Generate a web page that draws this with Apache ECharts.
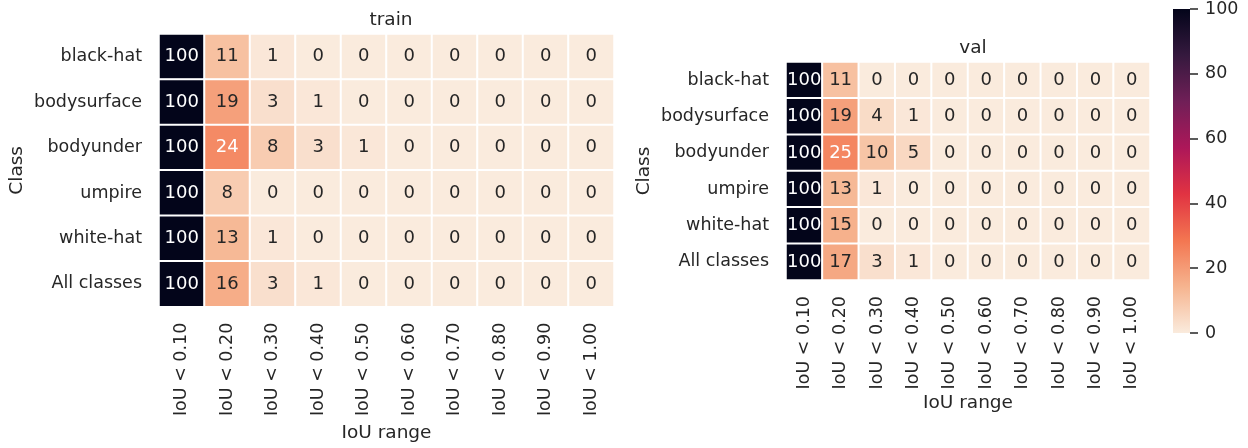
<!DOCTYPE html>
<html>
<head>
<meta charset="utf-8">
<script src="https://cdn.jsdelivr.net/npm/echarts@6/dist/echarts.min.js"></script>
<style>
html,body{margin:0;padding:0;background:#fff;}
#chart{width:1248px;height:448px;}
</style>
</head>
<body>
<div id="chart"></div>
<script>
// ---- data ----
const classes = ['black-hat', 'bodysurface', 'bodyunder', 'umpire', 'white-hat', 'All classes'];
const iouBins = ['IoU < 0.10', 'IoU < 0.20', 'IoU < 0.30', 'IoU < 0.40', 'IoU < 0.50',
                 'IoU < 0.60', 'IoU < 0.70', 'IoU < 0.80', 'IoU < 0.90', 'IoU < 1.00'];
const trainBlackHat    = [100, 11, 1, 0, 0, 0, 0, 0, 0, 0];
const trainBodysurface = [100, 19, 3, 1, 0, 0, 0, 0, 0, 0];
const trainBodyunder   = [100, 24, 8, 3, 1, 0, 0, 0, 0, 0];
const trainUmpire      = [100, 8, 0, 0, 0, 0, 0, 0, 0, 0];
const trainWhiteHat    = [100, 13, 1, 0, 0, 0, 0, 0, 0, 0];
const trainAll         = [100, 16, 3, 1, 0, 0, 0, 0, 0, 0];
const valBlackHat      = [100, 11, 0, 0, 0, 0, 0, 0, 0, 0];
const valBodysurface   = [100, 19, 4, 1, 0, 0, 0, 0, 0, 0];
const valBodyunder     = [100, 25, 10, 5, 0, 0, 0, 0, 0, 0];
const valUmpire        = [100, 13, 1, 0, 0, 0, 0, 0, 0, 0];
const valWhiteHat      = [100, 15, 0, 0, 0, 0, 0, 0, 0, 0];
const valAll           = [100, 17, 3, 1, 0, 0, 0, 0, 0, 0];
const colorbarTicks    = [0, 20, 40, 60, 80, 100];

const trainRows = [trainBlackHat, trainBodysurface, trainBodyunder, trainUmpire, trainWhiteHat, trainAll];
const valRows   = [valBlackHat, valBodysurface, valBodyunder, valUmpire, valWhiteHat, valAll];

// rocket_r colour stops (low -> high)
const rocketR = ['#FAEBDD', '#F6B48F', '#F37651', '#E13342', '#AD1759', '#701F57', '#35193E', '#03051A'];

const TXT = '#262626';
const FONT = 'DejaVu Sans';

function toCells(rows) {
  const out = [];
  rows.forEach((row, yi) => row.forEach((v, xi) => {
    out.push({ value: [xi, yi, v], label: { color: v > 20 ? '#ffffff' : TXT } });
  }));
  return out;
}

const barGradient = new echarts.graphic.LinearGradient(0, 1, 0, 0,
  rocketR.map((c, i) => ({ offset: i / (rocketR.length - 1), color: c })));

const grids = [
  { left: 159, top: 34, width: 455, height: 273 },
  { left: 786, top: 62, width: 364, height: 218 },
  { left: 1173, top: 6, width: 17, height: 327, show: true, borderWidth: 0, backgroundColor: barGradient }
];

function xAx(gi) {
  return {
    type: 'category', gridIndex: gi, data: iouBins,
    axisLine: { show: false }, axisTick: { show: false }, splitLine: { show: false },
    axisLabel: { rotate: 90, margin: 16, color: TXT, fontSize: 17.5, fontFamily: FONT, interval: 0 },
    name: 'IoU range', nameLocation: 'middle', nameGap: 114,
    nameTextStyle: { color: TXT, fontSize: 18.5, fontFamily: FONT }
  };
}
function yAx(gi) {
  return {
    type: 'category', gridIndex: gi, data: classes, inverse: true,
    axisLine: { show: false }, axisTick: { show: false }, splitLine: { show: false },
    axisLabel: { margin: 17, color: TXT, fontSize: 17.5, fontFamily: FONT, interval: 0 },
    name: 'Class', nameLocation: 'middle', nameGap: 132,
    nameTextStyle: { color: TXT, fontSize: 18.5, fontFamily: FONT }
  };
}

function heat(gi, rows) {
  return {
    type: 'heatmap', xAxisIndex: gi, yAxisIndex: gi,
    data: toCells(rows),
    itemStyle: { borderColor: '#ffffff', borderWidth: 2 },
    label: { show: true, fontSize: 18, fontFamily: FONT },
    emphasis: { disabled: true },
    silent: true
  };
}

const chart = echarts.init(document.getElementById('chart'), null, { renderer: 'canvas' });
chart.setOption({
  backgroundColor: '#ffffff',
  animation: false,
  textStyle: { fontFamily: FONT },
  title: [
    { text: 'train', left: 386, top: 6, textAlign: 'center',
      textStyle: { color: TXT, fontSize: 18.5, fontWeight: 'normal', fontFamily: FONT } },
    { text: 'val', left: 968, top: 34, textAlign: 'center',
      textStyle: { color: TXT, fontSize: 18.5, fontWeight: 'normal', fontFamily: FONT } }
  ],
  grid: grids,
  xAxis: [xAx(0), xAx(1), { type: 'value', gridIndex: 2, show: false, min: 0, max: 1 }],
  yAxis: [yAx(0), yAx(1), {
    type: 'value', gridIndex: 2, position: 'right',
    min: colorbarTicks[0], max: colorbarTicks[colorbarTicks.length - 1],
    interval: colorbarTicks[1] - colorbarTicks[0],
    axisLine: { show: true, onZero: false, lineStyle: { color: TXT, opacity: 0 } },
    splitLine: { show: false },
    axisTick: { show: true, inside: false, length: 8, lineStyle: { color: TXT, width: 1.5, opacity: 1 } },
    axisLabel: { margin: 15, color: TXT, fontSize: 17.5, fontFamily: FONT }
  }],
  visualMap: {
    type: 'continuous', min: 0, max: 100, seriesIndex: [0, 1], show: false,
    inRange: { color: rocketR }
  },
  series: [heat(0, trainRows), heat(1, valRows)]
});
</script>
</body>
</html>
